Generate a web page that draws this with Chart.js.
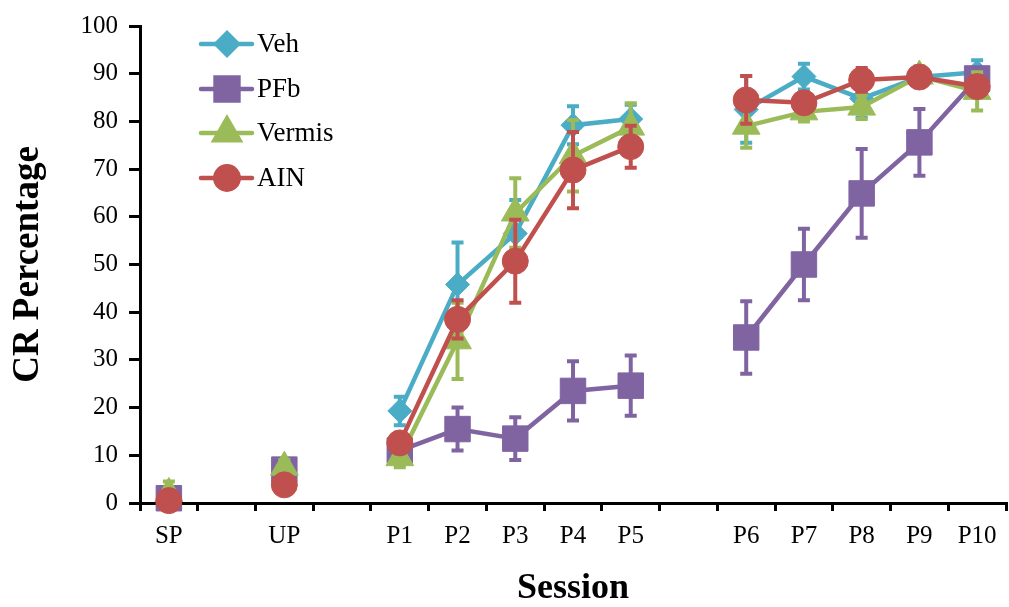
<!DOCTYPE html>
<html lang="en">
<head>
    <meta charset="UTF-8">
    <title>CR Percentage by Session</title>
    <script src="https://cdn.jsdelivr.net/npm/chart.js@4.4.0/dist/chart.umd.min.js"></script>
    <style>
        body {
            margin: 0;
            background: #fff;
        }
        .chart-container {
            width: 1009px;
            height: 607px;
        }
    </style>
</head>
<body>
    <div class="chart-container">
        <canvas id="crChart" width="1009" height="607"></canvas>
    </div>

    <script>
        // Sessions (empty labels are the gaps between phases)
        const sessions = ['SP', '', 'UP', '', 'P1', 'P2', 'P3', 'P4', 'P5', '', 'P6', 'P7', 'P8', 'P9', 'P10'];

        // Group means (CR %)
        const veh    = [0.5, null, 7.0, null, 19.3, 45.8, 56.5, 79.2, 80.5, null, 82.5, 89.4, 84.8, 89.3, 90.3];
        const pfb    = [1.0, null, 7.0, null, 11.0, 15.5, 13.5, 23.5, 24.6, null, 34.7, 50.0, 64.9, 75.6, 89.0];
        const vermis = [2.0, null, 7.5, null, 9.5, 34.0, 60.8, 72.8, 78.8, null, 79.0, 82.0, 83.0, 89.5, 86.3];
        const ain    = [0.5, null, 3.8, null, 12.6, 38.5, 50.7, 69.8, 74.7, null, 84.5, 83.9, 88.7, 89.3, 87.3];

        // Error bars (+/- SEM)
        const vehErr    = [1.0, null, 1.0, null, 3.0, 8.8, 7.0, 4.0, 3.0, null, 7.0, 2.7, 4.0, 2.0, 2.5];
        const pfbErr    = [1.0, null, 1.5, null, 2.0, 4.5, 4.5, 6.2, 6.3, null, 7.6, 7.5, 9.3, 7.0, 2.0];
        const vermisErr = [2.5, null, 1.5, null, 2.0, 8.0, 7.3, 7.5, 5.0, null, 4.5, 2.0, 2.5, 2.0, 4.0];
        const ainErr    = [0.5, null, 1.0, null, 2.0, 4.0, 8.7, 8.0, 4.4, null, 5.0, 2.0, 2.5, 2.0, 2.0];

        const FONT = "'Liberation Serif', 'Times New Roman', serif";
        Chart.defaults.font.family = FONT;
        Chart.defaults.color = '#000';

        const series = [
            { label: 'Veh',    data: veh,    err: vehErr,    color: '#4BACC6', style: 'rectRot',  radius: 12, order: 3 },
            { label: 'PFb',    data: pfb,    err: pfbErr,    color: '#8064A2', style: 'rect',     radius: 18, order: 2 },
            { label: 'Vermis', data: vermis, err: vermisErr, color: '#9BBB59', style: 'triangle', radius: 16, order: 1 },
            { label: 'AIN',    data: ain,    err: ainErr,    color: '#C0504D', style: 'circle',   radius: 13, order: 0 }
        ];

        const datasets = series.map(s => ({
            label: s.label,
            data: s.data,
            errors: s.err,
            borderColor: s.color,
            backgroundColor: s.color,
            borderWidth: 4.5,
            pointStyle: s.style,
            pointRadius: s.radius,
            pointHoverRadius: s.radius,
            pointBorderWidth: 1,
            pointBackgroundColor: s.color,
            pointBorderColor: s.color,
            spanGaps: false,
            tension: 0,
            clip: false,
            order: s.order
        }));

        // error bars, drawn just before each series so its markers sit on top
        const errorBars = {
            id: 'errorBars',
            beforeDatasetDraw(chart, args) {
                const ds = chart.data.datasets[args.index];
                const meta = args.meta;
                const y = chart.scales.y;
                const ctx = chart.ctx;
                ctx.save();
                ctx.strokeStyle = ds.borderColor;
                ctx.lineWidth = 4;
                meta.data.forEach((pt, i) => {
                    const v = ds.data[i];
                    const e = ds.errors[i];
                    if (v === null || e === null) return;
                    const top = y.getPixelForValue(v + e);
                    const bot = y.getPixelForValue(Math.max(0, v - e));
                    ctx.beginPath();
                    ctx.moveTo(pt.x, top);
                    ctx.lineTo(pt.x, bot);
                    ctx.moveTo(pt.x - 6, top);
                    ctx.lineTo(pt.x + 6, top);
                    ctx.moveTo(pt.x - 6, bot);
                    ctx.lineTo(pt.x + 6, bot);
                    ctx.stroke();
                });
                ctx.restore();
            }
        };

        // legend in the upper left of the plot: line segment with marker, then label
        const innerLegend = {
            id: 'innerLegend',
            afterDraw(chart) {
                const ctx = chart.ctx;
                const rows = [44, 89, 133, 178];
                ctx.save();
                series.forEach((s, i) => {
                    const yy = rows[i];
                    ctx.strokeStyle = s.color;
                    ctx.fillStyle = s.color;
                    ctx.lineWidth = 4.5;
                    ctx.lineCap = 'round';
                    ctx.beginPath();
                    ctx.moveTo(201, yy);
                    ctx.lineTo(252, yy);
                    ctx.stroke();
                    Chart.helpers.drawPoint(ctx, {
                        pointStyle: s.style,
                        radius: s.radius * 0.9,
                        rotation: 0,
                        borderWidth: 1
                    }, 227, yy);
                    ctx.fillStyle = '#000';
                    ctx.font = '27px ' + FONT;
                    ctx.textAlign = 'left';
                    ctx.textBaseline = 'middle';
                    ctx.fillText(s.label, 257, yy + 1);
                });
                ctx.restore();
            }
        };

        const ctx = document.getElementById('crChart').getContext('2d');
        new Chart(ctx, {
            type: 'line',
            data: {
                labels: sessions,
                datasets: datasets
            },
            options: {
                responsive: false,
                animation: false,
                layout: {
                    autoPadding: false,
                    padding: { top: 23, right: 3, left: 0, bottom: 0 }
                },
                scales: {
                    x: {
                        offset: true,
                        grid: {
                            offset: true,
                            drawOnChartArea: false,
                            color: '#000',
                            lineWidth: 3,
                            tickLength: 8
                        },
                        border: { color: '#000', width: 3 },
                        ticks: {
                            autoSkip: false,
                            maxRotation: 0,
                            padding: 10,
                            font: { size: 25 }
                        },
                        title: {
                            display: true,
                            text: 'Session',
                            font: { size: 36, weight: 'bold', lineHeight: 1 },
                            padding: { top: 0, bottom: 0 }
                        },
                        afterFit(scale) {
                            scale.height = 104;
                            scale.paddingLeft = 0;
                            scale.paddingRight = 0;
                        }
                    },
                    y: {
                        min: 0,
                        max: 100,
                        grid: {
                            drawOnChartArea: false,
                            color: '#000',
                            lineWidth: 3,
                            tickLength: 11
                        },
                        border: { color: '#000', width: 3 },
                        ticks: {
                            stepSize: 10,
                            padding: 11,
                            font: { size: 25 }
                        },
                        title: {
                            display: true,
                            text: 'CR Percentage',
                            font: { size: 37, weight: 'bold' },
                            padding: { top: 6, bottom: 0 }
                        },
                        afterFit(scale) { scale.width = 140; }
                    }
                },
                plugins: {
                    legend: { display: false },
                    tooltip: { enabled: false }
                }
            },
            plugins: [errorBars, innerLegend]
        });
    </script>
</body>
</html>
